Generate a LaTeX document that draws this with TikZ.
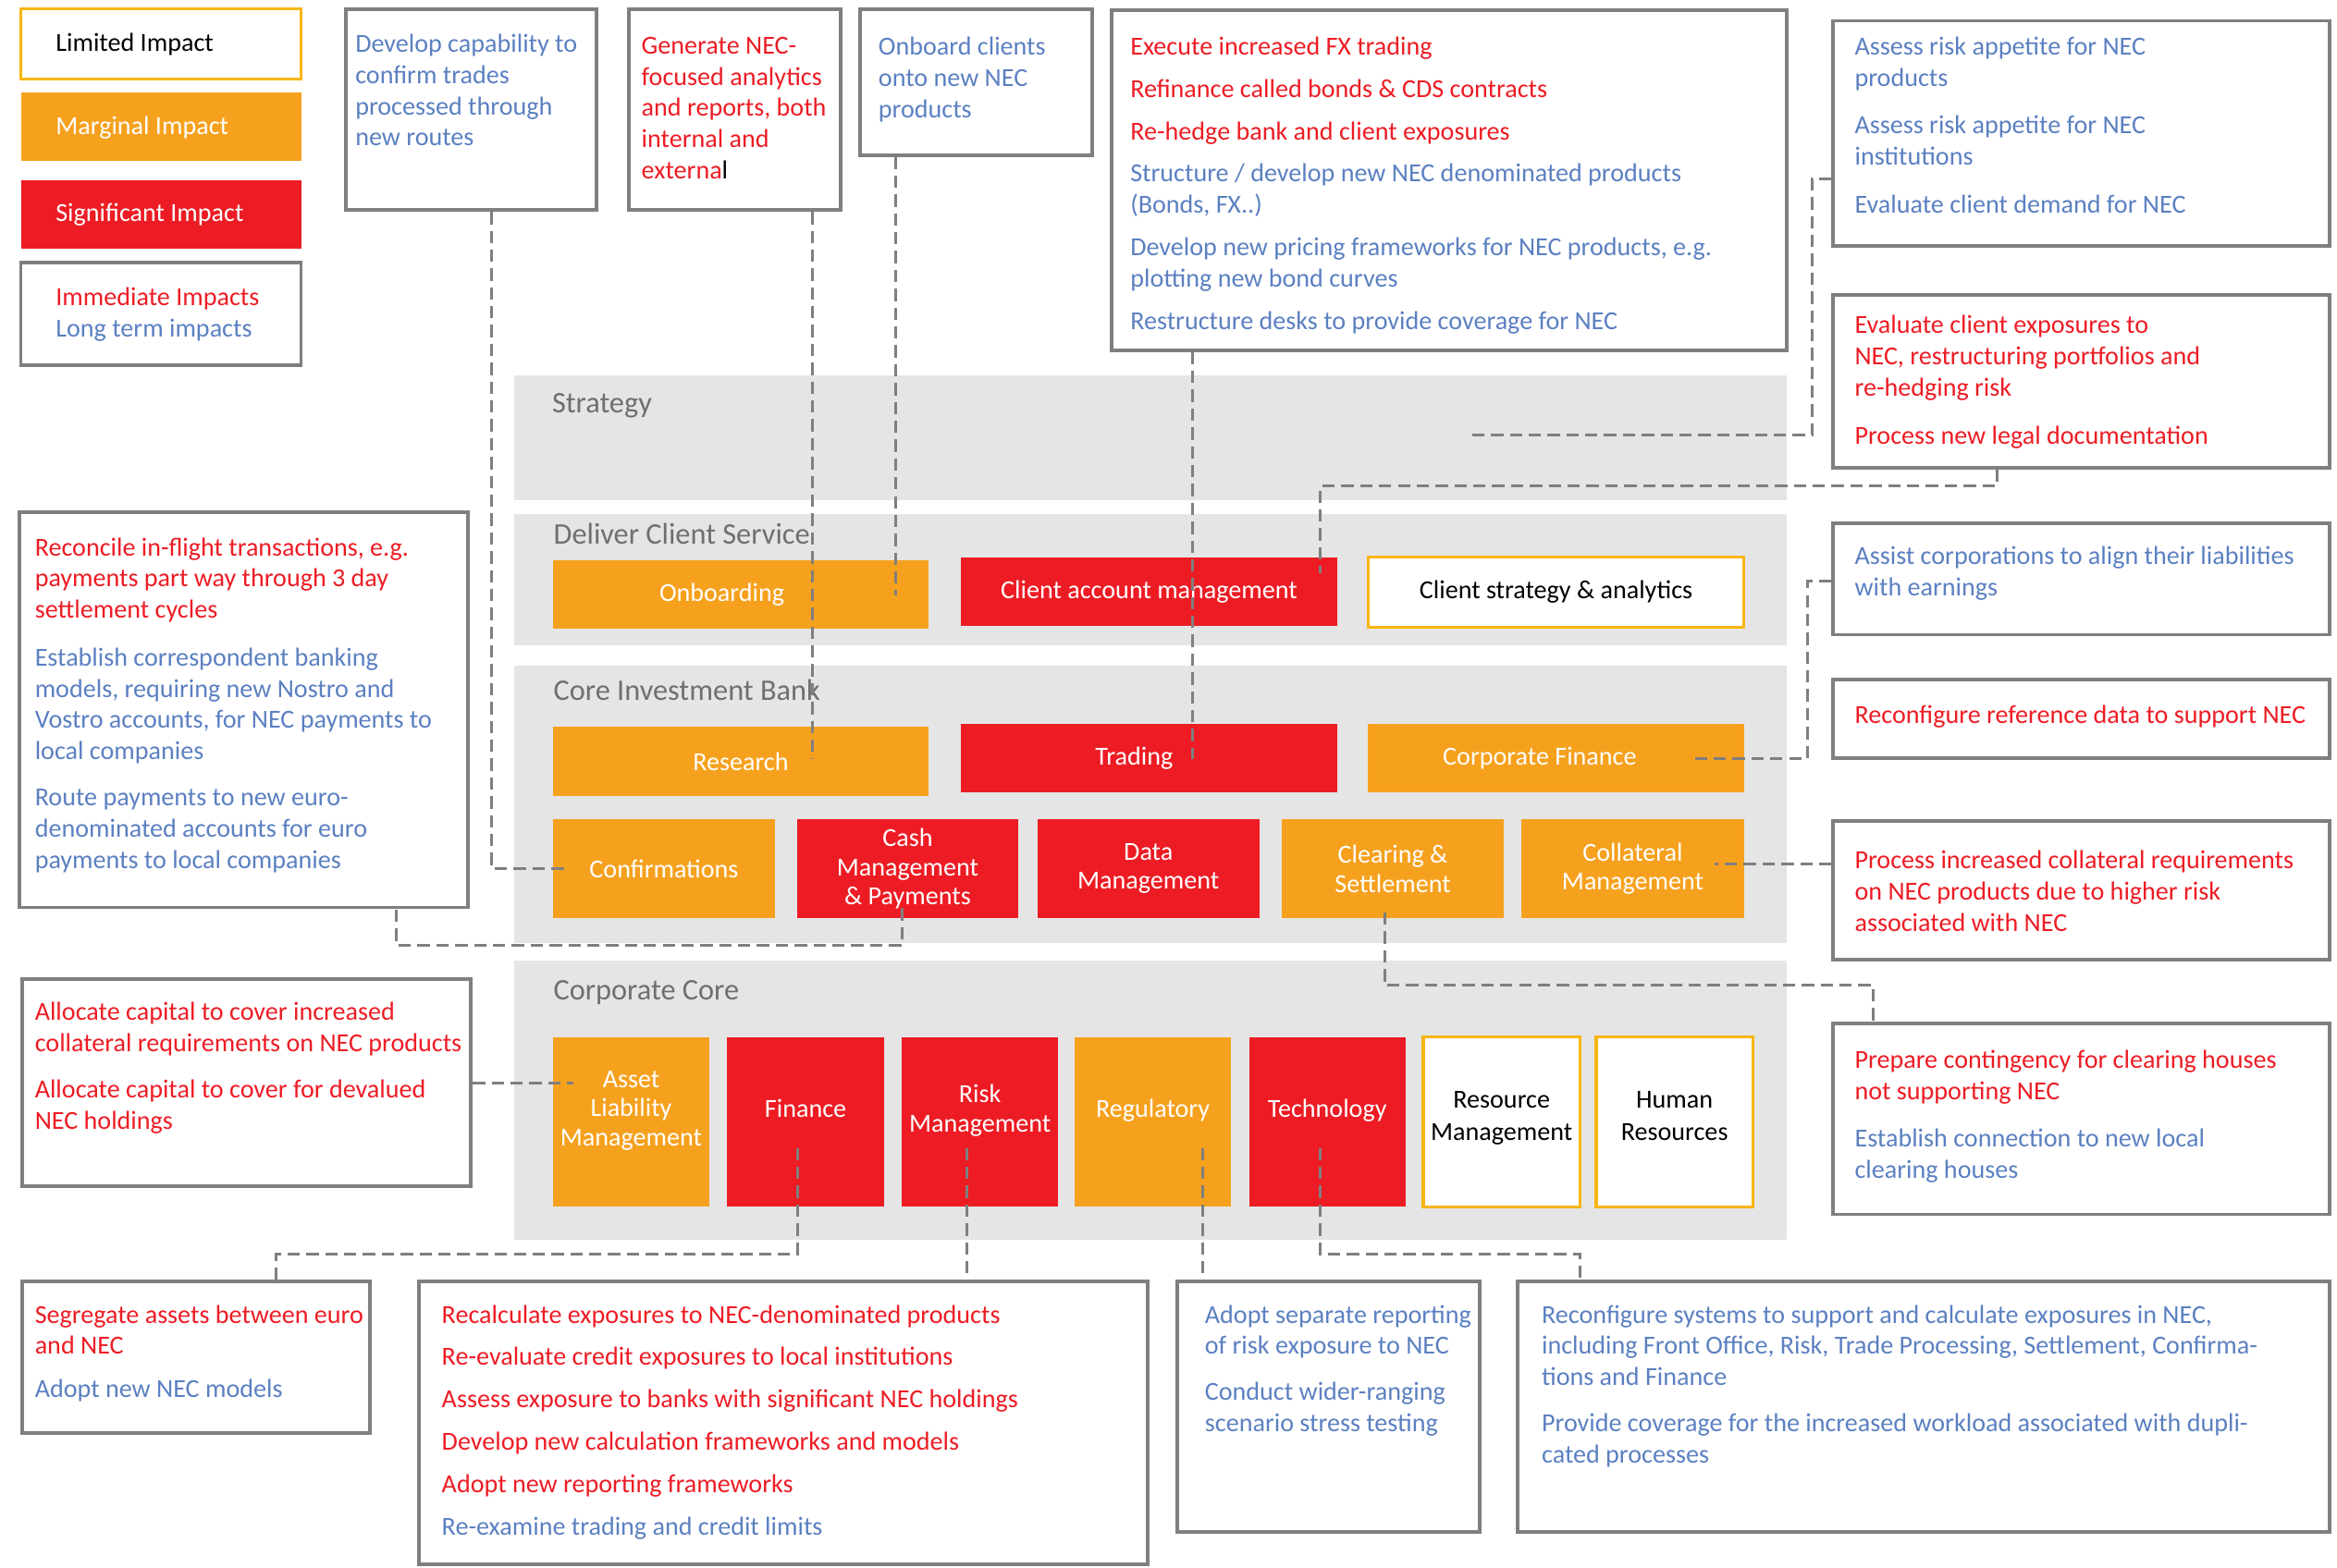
\documentclass[tikz,border=0pt]{standalone}
\usepackage{fontspec}
\setmainfont{Carlito}
\usetikzlibrary{fit}

\definecolor{nred}{HTML}{ED1C24}
\definecolor{norange}{HTML}{F6A11E}
\definecolor{nyellow}{HTML}{F7B613}
\definecolor{nblue}{HTML}{5B80C1}
\definecolor{ngray}{HTML}{7F7F7F}
\definecolor{nband}{HTML}{E5E5E5}
\definecolor{nlabel}{HTML}{6F6F6F}

\newcommand{\boxfont}{\fontsize{8}{9.63}\selectfont}
\newcommand{\labfont}{\fontsize{8}{9}\selectfont}
\newcommand{\bandfont}{\fontsize{9.2}{11}\selectfont}
\newcommand{\hot}[1]{\textcolor{nred}{#1}}

\tikzset{
  note/.style={draw=ngray, line width=1.1pt, inner sep=0pt},
  band/.style={fill=nband, inner sep=0pt},
  cell/.style 2 args={minimum width=#1*0.016116cm, minimum height=#2*0.016116cm},
  sig/.style={fill=nred, text=white, inner sep=0pt, align=center, font=\labfont},
  marg/.style={fill=norange, text=white, inner sep=0pt, align=center, font=\labfont},
  lim/.style={draw=nyellow, line width=1pt, fill=white, text=black, inner sep=0pt, align=center, font=\labfont},
  corerow/.style={text depth=8.4pt},
  whiterow/.style={text depth=3.6pt, font=\fontsize{8}{9.9}\selectfont},
  say/.style={anchor=north west, inner sep=0pt, align=left, font=\boxfont, text=nblue, yshift=-2.3pt, execute at begin node=\strut},
  keytext/.style={anchor=west, inner sep=0pt, font=\boxfont, yshift=-0.9pt},
  bandname/.style={anchor=west, inner sep=0pt, font=\bandfont, text=nlabel, yshift=-0.5pt},
  link/.style={draw=ngray, line width=0.85pt, dash pattern=on 3.8pt off 2pt},
}

\begin{document}
\begin{tikzpicture}[x=0.016116cm, y=-0.016116cm]
\useasboundingbox (0,0) rectangle (1568,1052);

% legend
\node[lim, fit={(14,6) (202,53)}] (limkey) {};
\node[marg, fit={(14,62) (202,108)}] (margkey) {};
\node[sig, fit={(14,121) (202,167)}] (sigkey) {};
\node[note, fit={(14,176) (202,245)}] (impkey) {};
\node[keytext, text=black] (limtxt) at (37,28) {Limited Impact};
\node[keytext, text=white] (margtxt) at (37,84) {Marginal Impact};
\node[keytext, text=white] (sigtxt) at (37,142) {Significant Impact};
\node[say] (imptxt) at (37,187.4) {\hot{Immediate Impacts}\\Long term impacts};

% gray bands
\node[band, fit={(345,252) (1199,336)}] (strategy) {};
\node[band, fit={(345,345) (1199,433)}] (deliver) {};
\node[band, fit={(345,447) (1199,633)}] (cib) {};
\node[band, fit={(345,645) (1199,832)}] (corecore) {};
\node[bandname] (strategyname) at (370,271) {Strategy};
\node[bandname] (delivername) at (371,357) {Deliver Client Service};
\node[bandname] (cibname) at (371,462) {Core Investment Bank};
\node[bandname] (corecorename) at (371,665) {Corporate Core};

% deliver client service
\node[marg, cell={252}{46}] (onboard) at (497,399) {\hbox{Onboarding\kern11.6pt}};
\node[sig, cell={252}{46}] (acct) at (771,397) {Client account management};
\node[lim, cell={252}{47}] (strat) at (1044,397.5) {Client strategy \& analytics};

% core investment bank
\node[marg, cell={252}{46}] (research) at (497,511) {Research};
\node[sig, cell={252}{46}] (trading) at (771,509) {\hbox{Trading\kern9.2pt}};
\node[marg, cell={252}{46}] (corpfin) at (1044,509) {\hbox{Corporate Finance\kern10pt}};
\node[marg, cell={149}{66}] (conf) at (445.5,583) {Confirmations};
\node[sig, cell={148}{66}] (cash) at (609,583) {Cash\\Management\\\& Payments};
\node[sig, cell={149}{66}] (data) at (770.5,583) {Data\\Management};
\node[marg, cell={149}{66}] (clear) at (934.5,583) {Clearing \&\\Settlement};
\node[marg, cell={149}{66}] (collat) at (1095.5,583) {Collateral\\Management};

% corporate core
\node[marg, corerow, cell={105}{114}] (alm) at (423.5,753) {Asset\\Liability\\Management};
\node[sig, corerow, cell={105}{114}] (finance) at (540.5,753) {Finance};
\node[sig, corerow, cell={105}{114}] (risk) at (657.5,753) {Risk\\Management};
\node[marg, corerow, cell={105}{114}] (reg) at (773.5,753) {Regulatory};
\node[sig, corerow, cell={105}{114}] (tech) at (890.5,753) {Technology};
\node[lim, whiterow, cell={105}{114}] (resmgmt) at (1007.5,753) {Resource\\Management};
\node[lim, whiterow, cell={105}{114}] (hr) at (1123.5,753) {Human\\Resources};

% top boxes
\node[note, fit={(232,6) (400,141)}] (dev) {};
\node[say] (devtxt) at (238,17.4) {Develop capability to\\confirm trades\\processed through\\new routes};
\node[note, fit={(422,6) (564,141)}] (gen) {};
\node[say] (gentxt) at (430,19.4) {\hot{Generate NEC-}\\\hot{focused analytics}\\\hot{and reports, both}\\\hot{internal and}\\\hot{externa}\textcolor{black}{l}};
\node[note, fit={(577,6) (733,104)}] (ocl) {};
\node[say] (ocltxt) at (589,19.4) {Onboard clients\\onto new NEC\\products};
\node[note, fit={(746,7) (1199,235)}] (exec) {};
\node[say] (exectxt) at (758,19.4) {\hot{Execute increased FX trading}\\[3.4pt]
  \hot{Refinance called bonds \& CDS contracts}\\[3.4pt]
  \hot{Re-hedge bank and client exposures}\\[3.4pt]
  Structure / develop new NEC denominated products\\(Bonds, FX..)\\[3.4pt]
  Develop new pricing frameworks for NEC products, e.g.\\plotting new bond curves\\[3.4pt]
  Restructure desks to provide coverage for NEC};

% right column
\node[note, fit={(1230,14) (1563,165)}] (assess) {};
\node[say] (assesstxt) at (1244,19.4) {Assess risk appetite for NEC\\products\\[5pt]
  Assess risk appetite for NEC\\institutions\\[5pt]
  Evaluate client demand for NEC};
\node[note, fit={(1230,198) (1563,314)}] (eval) {};
\node[say] (evaltxt) at (1244,206.4) {\hot{Evaluate client exposures to}\\\hot{NEC, restructuring portfolios and}\\\hot{re-hedging risk}\\[5pt]
  \hot{Process new legal documentation}};
\node[note, fit={(1230,351) (1563,426)}] (assist) {};
\node[say] (assisttxt) at (1244,361.4) {Assist corporations to align their liabilities\\with earnings};
\node[note, fit={(1230,456) (1563,509)}] (refdata) {};
\node[say] (refdatatxt) at (1244,465.4) {\hot{Reconfigure reference data to support NEC}};
\node[note, fit={(1230,551) (1563,644)}] (process) {};
\node[say] (processtxt) at (1244,565.4) {\hot{Process increased collateral requirements}\\\hot{on NEC products due to higher risk}\\\hot{associated with NEC}};
\node[note, fit={(1230,687) (1563,815)}] (prepare) {};
\node[say] (preparetxt) at (1244,699.4) {\hot{Prepare contingency for clearing houses}\\\hot{not supporting NEC}\\[5pt]
  Establish connection to new local\\clearing houses};

% left column
\node[note, fit={(13,344) (314,609)}] (recon) {};
\node[say] (recontxt) at (23,355.4) {\hot{Reconcile in-flight transactions, e.g.}\\\hot{payments part way through 3 day}\\\hot{settlement cycles}\\[5pt]
  Establish correspondent banking\\models, requiring new Nostro and\\Vostro accounts, for NEC payments to\\local companies\\[4.6pt]
  Route payments to new euro-\\denominated accounts for euro\\payments to local companies};
\node[note, fit={(15,657) (316,796)}] (alloc) {};
\node[say] (alloctxt) at (23,667.4) {\hot{Allocate capital to cover increased}\\\hot{collateral requirements on NEC products}\\[4.6pt]
  \hot{Allocate capital to cover for devalued}\\\hot{NEC holdings}};

% bottom row
\node[note, fit={(15,860) (248,962)}] (seg) {};
\node[say] (segtxt) at (23,870.4) {\hot{Segregate assets between euro}\\\hot{and NEC}\\[3.7pt]
  Adopt new NEC models};
\node[note, fit={(281,860) (770,1050)}] (recalc) {};
\node[say] (recalctxt) at (296,870.4) {\hot{Recalculate exposures to NEC-denominated products}\\[3.4pt]
  \hot{Re-evaluate credit exposures to local institutions}\\[3.4pt]
  \hot{Assess exposure to banks with significant NEC holdings}\\[3.4pt]
  \hot{Develop new calculation frameworks and models}\\[3.4pt]
  \hot{Adopt new reporting frameworks}\\[3.4pt]
  Re-examine trading and credit limits};
\node[note, fit={(790,860) (993,1028)}] (adopt) {};
\node[say] (adopttxt) at (808,870.4) {Adopt separate reporting\\of risk exposure to NEC\\[4.6pt]
  Conduct wider-ranging\\scenario stress testing};
\node[note, fit={(1018,860) (1563,1028)}] (reconf) {};
\node[say] (reconftxt) at (1034,870.4) {Reconfigure systems to support and calculate exposures in NEC,\\including Front Office, Risk, Trade Processing, Settlement, Confirma-\\tions and Finance\\[4.6pt]
  Provide coverage for the increased workload associated with dupli-\\cated processes};

% dashed links
\draw[link] (dev.south -| 330,0) |- (conf.west) -- ++(12,0);
\draw[link] (gen.south -| 545,0) -- (research.north -| 545,0) -- ++(0,22);
\draw[link] (ocl.south -| 601,0) -- (onboard.north -| 601,0) -- ++(0,24);
\draw[link] (exec.south -| 800,0) -- (trading.north -| 800,0) -- ++(0,24);
\draw[link] (assess.west |- 0,120) -- ++(-13,0) |- (strategy.east |- 0,292) -- ++(-214,0);
\draw[link] (eval.south -| 1340,0) -- ++(0,11) -| (acct.north -| 886,0) -- ++(0,11);
\draw[link] (assist.west |- 0,390) -- ++(-16,0) |- (corpfin.east) -- ++(-33,0);
\draw[link] (process.west |- 0,580) -- (collat.east |- 0,580) -- ++(-20,0);
\draw[link] (clear.south -| 929,0) ++(0,-4) -- ++(0,49) -| (prepare.north -| 1257,0);
\draw[link] (cash.south -| 605,0) ++(0,-7) -- ++(0,25) -| (recon.south -| 266,0);
\draw[link] (alloc.east |- 0,727) -- (alm.west |- 0,727) -- ++(14,0);
\draw[link] (finance.south -| 535,0) ++(0,-40) -- ++(0,71) -| (seg.north -| 185,0);
\draw[link] (risk.south -| 649,0) ++(0,-40) -- (recalc.north -| 649,0);
\draw[link] (reg.south -| 807,0) ++(0,-40) -- (adopt.north -| 807,0);
\draw[link] (tech.south -| 886,0) ++(0,-40) -- ++(0,71) -| (reconf.north -| 1060,0);
\end{tikzpicture}
\end{document}
